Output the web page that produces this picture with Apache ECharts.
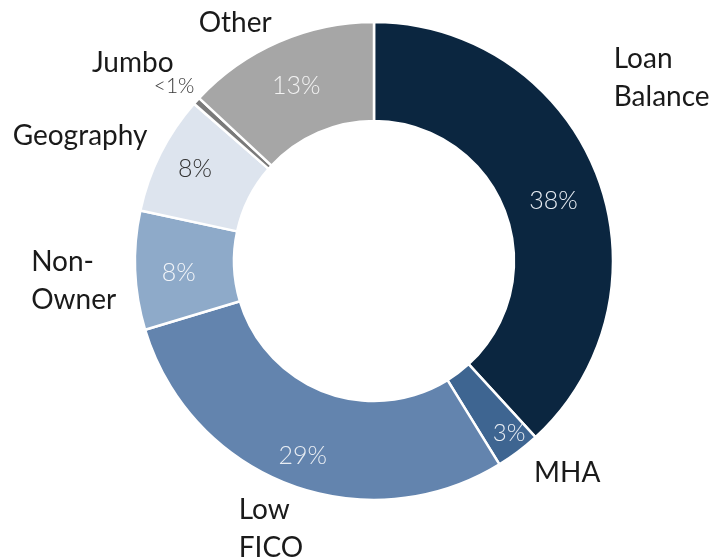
<!DOCTYPE html>
<html>
<head>
<meta charset="utf-8">
<script src="https://cdn.jsdelivr.net/npm/echarts@6/dist/echarts.min.js"></script>
<style>
html,body{margin:0;padding:0;background:#fff;}
#chart{width:713px;height:559px;}
</style>
</head>
<body>
<div id="chart"></div>
<script>
// Data
const categories = ['Loan\nBalance', 'MHA', 'Low\nFICO', 'Non-\nOwner', 'Geography', 'Jumbo', 'Other'];
const values = [38, 3, 29, 8, 8, 0.5, 13];
const valueLabels = ['38%', '3%', '29%', '8%', '8%', '<1%', '13%'];

// Styles
const colors = ['#0b2640', '#3e6591', '#6384ae', '#8eaac9', '#dde4ee', '#7a7a7a', '#a6a6a6'];
const pctColors = ['#e8edf3', '#e8edf3', '#e8edf3', '#f2f5f9', '#333333', '#3a3a3a', '#f2f2f2'];
const pctFont = [25, 24, 25, 25, 25, 21, 25];
const pctWeight = [300, 300, 300, 300, 300, 300, 300];
const pctShift = [[0, 10], [19, 19], [-3, 15], [-3, 4], [-7, -6], [-57, -46], [-1, 1]];
const nameShift = [[12, -96], [11, 21], [19, 45], [-14, 11], [-8, -18], [-18, -38], [-2, -19]];

const FONT = 'Lato, "Open Sans", sans-serif';
const center = [374, 261];
const radius = [140, 239];

const chart = echarts.init(document.getElementById('chart'));

const innerData = categories.map((c, i) => ({
  name: c, value: values[i],
  itemStyle: { color: colors[i] },
  label: { color: pctColors[i], fontSize: pctFont[i], fontWeight: pctWeight[i] }
}));
const outerData = categories.map((c, i) => ({ name: c, value: values[i] }));

chart.setOption({
  animation: false,
  series: [
    {
      type: 'pie',
      center: center,
      radius: radius,
      startAngle: 90,
      clockwise: true,
      avoidLabelOverlap: false,
      silent: true,
      itemStyle: { borderColor: '#ffffff', borderWidth: 2.5 },
      label: {
        show: true,
        position: 'inside',
        fontFamily: FONT,
        fontWeight: 300,
        formatter: p => valueLabels[p.dataIndex]
      },
      labelLine: { show: false },
      labelLayout: p => ({ dx: pctShift[p.dataIndex][0], dy: pctShift[p.dataIndex][1] }),
      data: innerData
    },
    {
      type: 'pie',
      center: center,
      radius: radius,
      startAngle: 90,
      clockwise: true,
      avoidLabelOverlap: false,
      silent: true,
      itemStyle: { color: 'rgba(0,0,0,0)', borderWidth: 0 },
      label: {
        show: true,
        position: 'outside',
        alignTo: 'none',
        fontFamily: FONT,
        fontSize: 28,
        lineHeight: 38,
        color: '#1a1a1a',
        formatter: p => p.name.split('\n').map(s => '{l|' + s + '}').join('\n'),
        rich: { l: { align: 'left', fontFamily: FONT, fontSize: 28, lineHeight: 38, color: '#1a1a1a' } }
      },
      labelLine: { show: false, length: 0, length2: 0 },
      labelLayout: p => ({ dx: nameShift[p.dataIndex][0], dy: nameShift[p.dataIndex][1] }),
      data: outerData
    }
  ]
});
</script>
</body>
</html>
